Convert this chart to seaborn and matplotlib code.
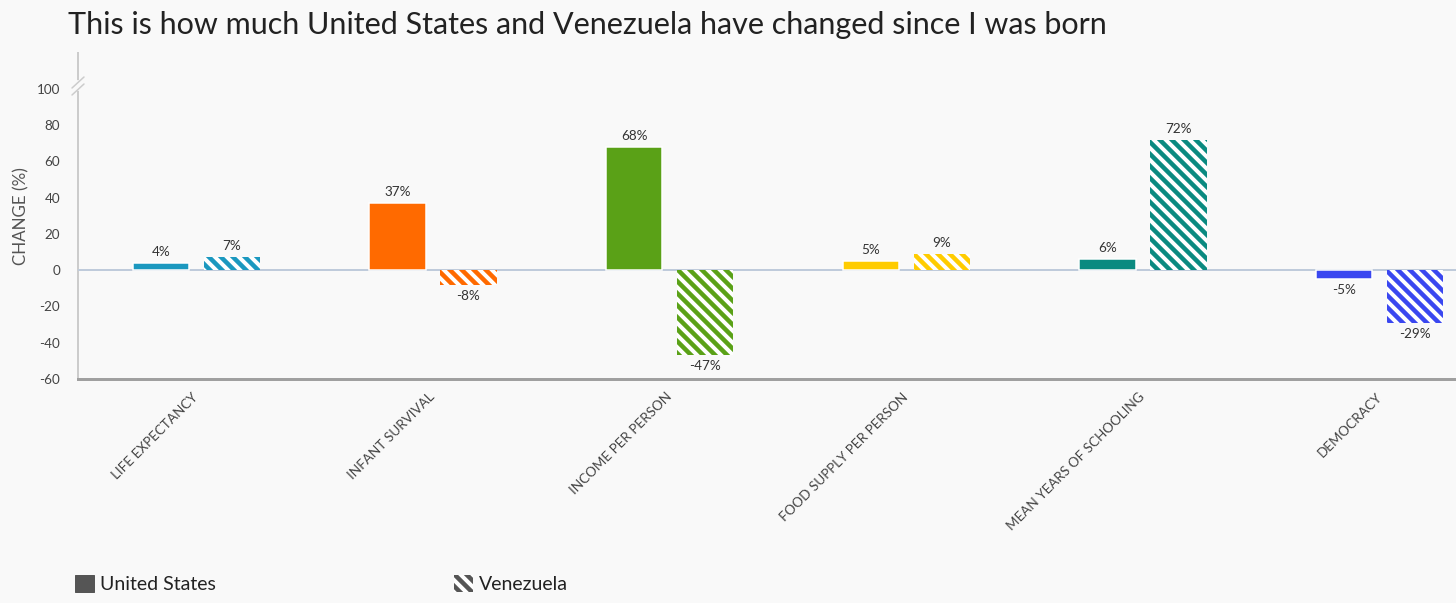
import pandas as pd
import seaborn as sns
import matplotlib.pyplot as plt
from matplotlib.patches import Patch
from matplotlib.lines import Line2D

# ----------------------------
# Data
# ----------------------------
categories = ["LIFE EXPECTANCY", "INFANT SURVIVAL", "INCOME PER PERSON",
              "FOOD SUPPLY PER PERSON", "MEAN YEARS OF SCHOOLING", "DEMOCRACY"]
us_change = [4, 37, 68, 5, 6, -5]
vz_change = [7, -8, -47, 9, 72, -29]
countries = ["United States", "Venezuela"]
bar_colors = ["#1b98bf", "#ff6a00", "#5aa117", "#ffcc00", "#0a8a80", "#3a47f0"]
yticks = [-60, -40, -20, 0, 20, 40, 60, 80, 100]

df = pd.DataFrame({
    "indicator": categories * 2,
    "change": us_change + vz_change,
    "country": [countries[0]] * len(categories) + [countries[1]] * len(categories),
})

# ----------------------------
# Style
# ----------------------------
bg = "#f9f9f9"
sns.set_style("white")
plt.rcParams["font.family"] = ["Lato", "DejaVu Sans"]
plt.rcParams["hatch.linewidth"] = 4.5
plt.rcParams["axes.unicode_minus"] = False

W, H = 1456, 603
fig = plt.figure(figsize=(W / 72, H / 72), dpi=72, facecolor=bg)
ax = fig.add_axes([78 / W, 224 / H, 1420 / W, 326.5 / H])
ax.set_facecolor(bg)

sns.barplot(data=df, x="indicator", y="change", hue="country",
            order=categories, hue_order=countries, width=0.6, gap=0.21,
            errorbar=None, legend=False, ax=ax, zorder=3)

# colour each bar by its category, hatch the Venezuela ones
for k, cont in enumerate(ax.containers):
    for bar in cont:
        idx = int(round(bar.get_x() + bar.get_width() / 2))
        col = bar_colors[idx]
        if k == 0:
            bar.set_facecolor(col)
            bar.set_edgecolor("white")
            bar.set_linewidth(1.5)
        else:
            bar.set_facecolor("white")
            bar.set_edgecolor(col)
            bar.set_hatch("\\\\")
            bar.set_linewidth(0)
    ax.bar_label(cont, labels=[f"{v:.0f}%" for v in cont.datavalues],
                 padding=5, fontsize=13.5, color="#333333")

ax.axhline(0, color="#bfcbdb", lw=2, zorder=2)

# ----------------------------
# Axes
# ----------------------------
ax.set_xlim(-0.5, 5.5)
ax.set_ylim(-60, 120)
ax.set_yticks(yticks)
ax.tick_params(axis="y", length=0, pad=18, labelsize=13.5, labelcolor="#444444")

ax.set_xticks(range(len(categories)))
ax.set_xticklabels(categories, rotation=45, ha="right", va="center",
                   rotation_mode="anchor", fontsize=13.5, color="#444444")
ax.tick_params(axis="x", which="major", length=0, pad=16)
ax.set_xticks([i - 0.5 for i in range(len(categories) + 1)], minor=True)
ax.tick_params(axis="x", which="minor", length=12, width=1, color="#999999")

ax.set_xlabel("")
ax.set_ylabel("CHANGE (%)", fontsize=17, color="#555555", labelpad=7)

for side in ["top", "right"]:
    ax.spines[side].set_visible(False)
ax.spines["bottom"].set_color("#a0a0a0")
ax.spines["bottom"].set_linewidth(3)
ax.spines["left"].set_color("#cccccc")
ax.spines["left"].set_linewidth(2)
ax.spines["left"].set_zorder(1)

# axis break marks near the top of the y axis
px_x = 1 / 1420
px_y = 180 / 326.5
def to_ax(px, py):
    return px * px_x, 120 - (py - 52.5) * px_y

trans = ax.get_yaxis_transform()
gap_x, gap_y = zip(to_ax(0, 82), to_ax(0, 89))
ax.add_line(Line2D(gap_x, gap_y, color=bg, lw=4, transform=trans, clip_on=False, zorder=4))
for off in [0, 7]:
    xs, ys = zip(to_ax(-6, 88 + off), to_ax(6, 77 + off))
    ax.add_line(Line2D(xs, ys, color="#cccccc", lw=1.5, transform=trans,
                       clip_on=False, zorder=5))

# ----------------------------
# Title and legend
# ----------------------------
fig.text(68 / W, 1 - 25 / H,
         "This is how much United States and Venezuela have changed since I was born",
         fontsize=30.5, color="#222222", ha="left", va="center")

handles = [Patch(facecolor="#555555", edgecolor="#555555"),
           Patch(facecolor="white", edgecolor="#555555", hatch="\\\\", lw=0)]
fig.legend(handles=handles, labels=countries, loc="center left",
           bbox_to_anchor=(57 / W, 1 - 584 / H), ncol=2, frameon=False,
           fontsize=19.5, handlelength=1.0, handleheight=1.0,
           handletextpad=0.3, columnspacing=12.2, labelcolor="#222222")

fig.savefig("out.png", dpi=72, facecolor=bg)
